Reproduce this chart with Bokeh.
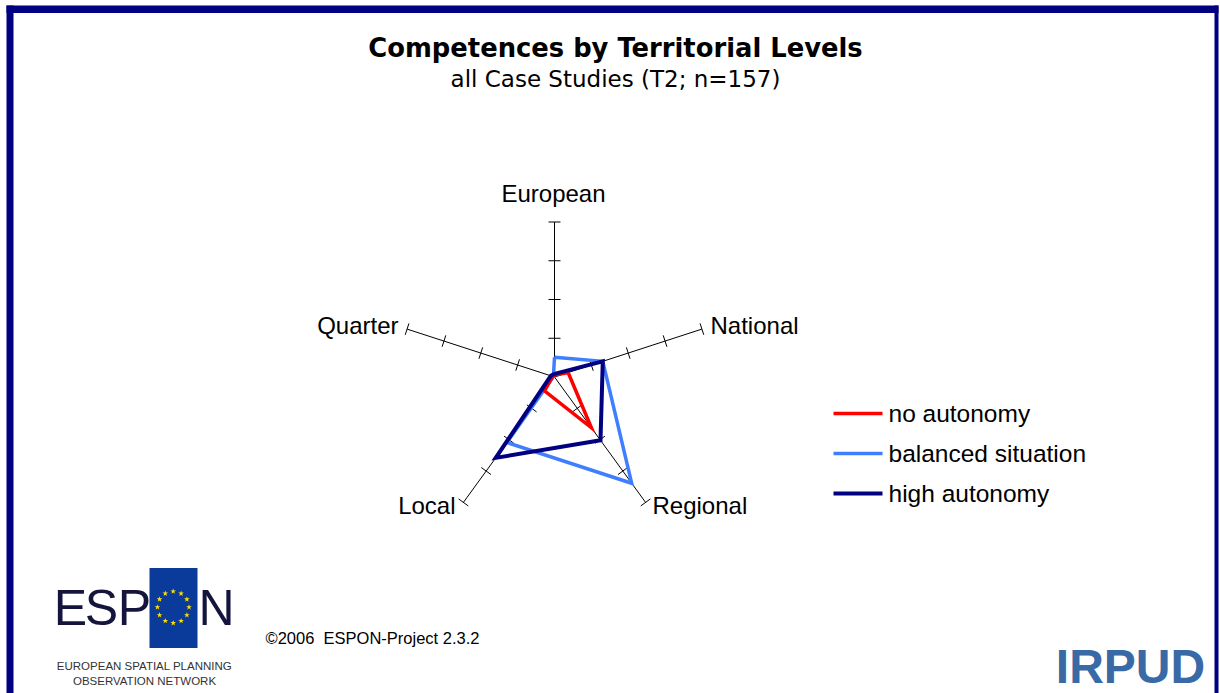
import math
from bokeh.plotting import figure
from bokeh.models import Range1d
from bokeh.core.properties import value
from bokeh.embed import file_html
from bokeh.resources import INLINE

# ---------------- data ----------------
axes_labels = ["European", "National", "Regional", "Local", "Quarter"]
tick_values = [1, 2, 3, 4]
axis_max = 4
series_names = ["no autonomy", "balanced situation", "high autonomy"]
no_autonomy = [0.05, 0.37, 1.62, 0.44, 0.05]
balanced = [0.51, 1.31, 3.39, 2.09, 0.03]
high_autonomy = [0.08, 1.31, 2.02, 2.58, 0.10]
series_colors = ["#FF0000", "#3F7FFF", "#000080"]
series_widths = [3.5, 3.5, 4]

title = "Competences by Territorial Levels"
subtitle = "all Case Studies (T2; n=157)"
copyright_text = "\u00a92006\u00a0 ESPON-Project 2.3.2"

# ---------------- layout ----------------
W, H = 1220, 693
CX, CY = 554.0, 376.5   # radar centre in canvas px
S = 38.75               # px per unit

def P(xi, yi):
    """canvas pixel -> data coords"""
    return ((xi - CX) / S, (CY - yi) / S)

p = figure(width=W, height=H, output_backend="svg", toolbar_location=None,
           x_range=Range1d(-CX / S, (W - CX) / S),
           y_range=Range1d(-(H - CY) / S, CY / S),
           min_border=0, background_fill_color="white",
           border_fill_color="white")
p.axis.visible = False
p.grid.visible = False
p.outline_line_color = None

n = len(axes_labels)
angles = [math.pi / 2 - 2 * math.pi * i / n for i in range(n)]

# frame border
for (x0, y0, x1, y1) in [(6, 5, 1218, 12.5), (6, 5, 13, 693), (1214, 5, 1218, 693)]:
    a = P(x0, y0); b = P(x1, y1)
    p.quad(left=[a[0]], right=[b[0]], top=[a[1]], bottom=[b[1]],
           fill_color="#000080", line_color=None)

# spokes and ticks
tl = 6.0 / S
for ang in angles:
    ex, ey = axis_max * math.cos(ang), axis_max * math.sin(ang)
    p.segment(x0=[0], y0=[0], x1=[ex], y1=[ey], line_color="black", line_width=1)
    px_, py_ = -math.sin(ang), math.cos(ang)
    xs0, ys0, xs1, ys1 = [], [], [], []
    for t in tick_values:
        bx, by = t * math.cos(ang), t * math.sin(ang)
        xs0.append(bx - tl * px_); ys0.append(by - tl * py_)
        xs1.append(bx + tl * px_); ys1.append(by + tl * py_)
    p.segment(x0=xs0, y0=ys0, x1=xs1, y1=ys1, line_color="black", line_width=1)

# series
for vals, col, lw in zip([balanced, no_autonomy, high_autonomy],
                         [series_colors[1], series_colors[0], series_colors[2]],
                         [series_widths[1], series_widths[0], series_widths[2]]):
    xs = [v * math.cos(a) for v, a in zip(vals, angles)]
    ys = [v * math.sin(a) for v, a in zip(vals, angles)]
    xs.append(xs[0]); ys.append(ys[0])
    p.line(xs, ys, line_color=col, line_width=lw, line_join="miter")

# axis labels
label_pos = [(553, 193, "center"), (710, 325, "left"), (652, 505, "left"),
             (455, 505, "right"), (398, 325, "right")]
for lab, (xi, yi, al) in zip(axes_labels, label_pos):
    x, y = P(xi, yi)
    p.text(x=[x], y=[y], text=[lab], text_align=al, text_baseline="middle",
           text_font=value("Liberation Sans"), text_font_size="24px", text_color="black")

# legend
for i, (name, col, lw) in enumerate(zip(series_names, series_colors, series_widths)):
    yi = 413 + 40 * i
    a = P(833, yi); b = P(882, yi)
    p.segment(x0=[a[0]], y0=[a[1]], x1=[b[0]], y1=[b[1]], line_color=col, line_width=lw)
    t = P(888, yi)
    p.text(x=[t[0]], y=[t[1]], text=[name], text_align="left", text_baseline="middle",
           text_font=value("Liberation Sans"), text_font_size="24.5px", text_color="black")

# title
t = P(615, 47)
p.text(x=[t[0]], y=[t[1]], text=[title], text_align="center", text_baseline="middle",
       text_font=value("DejaVu Sans"), text_font_style="bold", text_font_size="25.8px",
       text_color="black")
t = P(615, 78)
p.text(x=[t[0]], y=[t[1]], text=[subtitle], text_align="center", text_baseline="middle",
       text_font=value("DejaVu Sans"), text_font_size="23px", text_color="black")

# ESPON logo
a = P(149, 567.5); b = P(197, 647.5)
p.quad(left=[a[0]], right=[b[0]], top=[a[1]], bottom=[b[1]], fill_color="#0A3A9A", line_color=None)
sc = P(172.7, 606.7)
rr = 15.8 / S
p.scatter(x=[sc[0] + rr * math.cos(2 * math.pi * k / 12) for k in range(12)],
          y=[sc[1] + rr * math.sin(2 * math.pi * k / 12) for k in range(12)],
          marker="star", size=6, fill_color="#FFE000", line_color=None)
for ch, xi in [("E", 70), ("S", 101), ("P", 134), ("N", 216)]:
    c = P(xi, 607)
    p.text(x=[c[0]], y=[c[1]], text=[ch], text_align="center", text_baseline="middle",
           text_font=value("Liberation Sans"), text_font_size="50px", text_color="#14143C")
for line, yi in [("EUROPEAN SPATIAL PLANNING", 665), ("OBSERVATION NETWORK", 680)]:
    c = P(144, yi)
    p.text(x=[c[0]], y=[c[1]], text=[line], text_align="center", text_baseline="middle",
           text_font=value("Liberation Sans"), text_font_size="11.5px", text_color="#333333")

c = P(265, 637)
p.text(x=[c[0]], y=[c[1]], text=[copyright_text], text_align="left", text_baseline="middle",
       text_font=value("Liberation Sans"), text_font_size="16.5px", text_color="black")

c = P(1130, 692)
p.text(x=[c[0]], y=[c[1]], text=["IRPUD"], text_align="center", text_baseline="bottom",
       text_font=value("Liberation Sans"), text_font_style="bold", text_font_size="48px",
       text_color="#3A6AA5")

open("out.html", "w").write(file_html(p, INLINE))
